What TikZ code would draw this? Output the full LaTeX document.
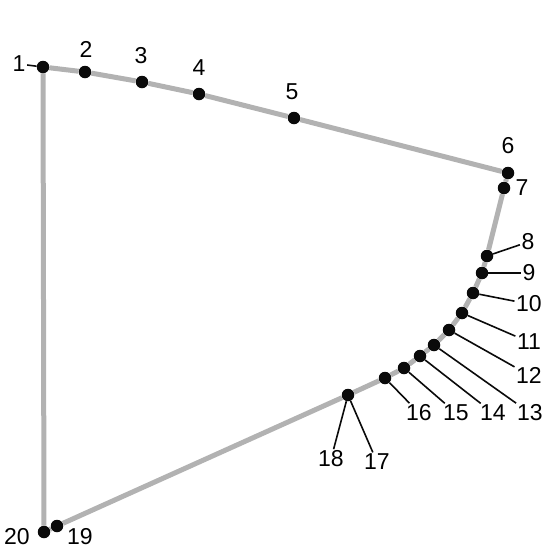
\documentclass[tikz,border=0pt]{standalone}
\usepackage{fontspec}
\newfontfamily\numfont{Liberation Sans}
\usetikzlibrary{positioning,backgrounds}
\definecolor{rimgray}{HTML}{B2B2B2}
\definecolor{dotink}{HTML}{0A0A0A}
\tikzset{
  vtx/.style={circle, fill=dotink, inner sep=0pt, minimum size=12.5pt},
  num/.style={font=\numfont\fontsize{23}{26}\selectfont, inner sep=1.5pt},
  lead/.style={dotink, line width=1.6pt},
  rim/.style={rimgray, line width=5pt, line join=round},
}

\begin{document}
\begin{tikzpicture}[x=1pt,y=-1pt]
  \useasboundingbox (0,0) rectangle (544,550);
  % points along the boundary
  \foreach \n/\x/\y in {1/43/67, 2/85/72, 3/142/82, 4/199/94, 5/294/118, 6/508/173, 7/504/188,
      8/487/256, 9/482/273, 10/473/293, 11/462/313, 12/449/330, 13/434/345, 14/420/356,
      15/404/368, 16/385/378, 17/348/395, 19/57/526, 20/44/532}
    { \node[vtx] (p\n) at (\x,\y) {}; }
  % outline
  \begin{scope}[on background layer]
    \draw[rim] (p1) -- (p2) -- (p3) -- (p4) -- (p5) -- (p6) -- (p7) -- (p8) -- (p9) -- (p10)
      -- (p11) -- (p12) -- (p13) -- (p14) -- (p15) -- (p16) -- (p17) -- (p19) -- (p20) -- (p1);
  \end{scope}
  % numbers
  \foreach \n/\x/\y in {1/19/64, 2/86/49, 3/141/56, 4/199/68, 5/292/92, 6/508/146, 7/522/188,
      8/528/242, 9/529/273, 10/529/304, 11/529/342, 12/529/375, 13/530/413, 14/493/413,
      15/456/413, 16/419/413, 18/331/459, 19/80/537, 20/17/537}
    { \node[num] (l\n) at (\x,\y) {\n}; }
  \node[num] (l17) at (377,462) {17};
  % leader lines
  \foreach \n in {1,8,9,10,11,12,13,14,15,16,17}
    { \draw[lead] (l\n) -- (p\n); }
  \draw[lead] (l18) -- (p17);
\end{tikzpicture}
\end{document}
